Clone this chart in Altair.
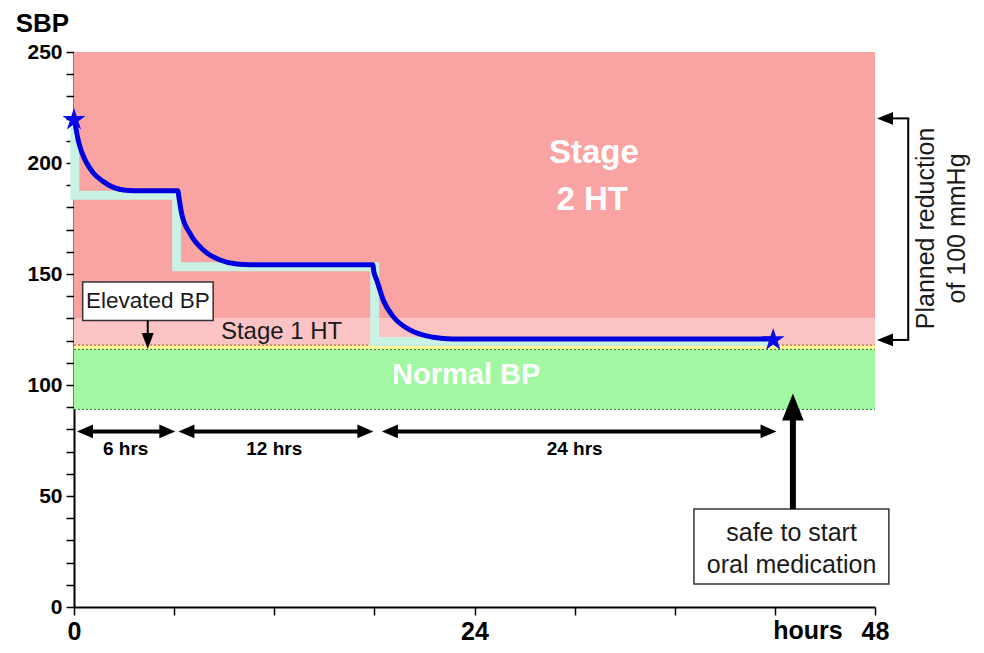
import altair as alt
import pandas as pd

# ---------------- data ----------------
band_names = ["Stage 2 HT", "Stage 1 HT", "Elevated BP", "Normal BP"]
band_low = [130, 118, 116, 89]
band_high = [250, 130, 118, 116]
band_colors = ["#f9a3a3", "#fbc3c3", "#fdf79a", "#a2f7a2"]

# blue SBP course (hours, mmHg)
blue_t = [0.0, 0.12, 0.26, 0.46, 0.76, 1.16, 1.76, 2.36, 2.96, 3.6, 6.22,
          6.3, 6.45, 6.95, 7.75, 8.75, 9.75, 10.6, 17.9,
          17.97, 18.14, 18.53, 19.13, 20.13, 21.53, 22.7, 41.9]
blue_v = [220, 215.5, 210, 205, 200, 195.5, 191.6, 189, 187.8, 187.5, 187.5,
          184, 177.3, 168.3, 160.8, 156.3, 154.5, 154.2, 154.2,
          151, 147.3, 138.3, 130.8, 124.8, 121.5, 120.7, 120.7]

# light target step line
mint_t = [0.05, 0.05, 6.15, 6.15, 18.02, 18.02, 41.9]
mint_v = [216, 185.5, 185.5, 153.3, 153.3, 119.6, 119.6]

star_t = [0, 41.9]
star_v = [219.5, 120.3]

interval_left = [0.18, 6.26, 18.45]
interval_right = [6.07, 17.94, 42.1]
interval_labels = ["6 hrs", "12 hrs", "24 hrs"]
interval_mid = [3.1, 12.0, 30.0]

x_ticks = [0, 6, 12, 18, 24, 30, 36, 42, 48]
y_ticks = list(range(0, 251, 10))

FONT = "Liberation Sans"

XS = alt.Scale(domain=[0, 48], nice=False, zero=False)
YS = alt.Scale(domain=[0, 250], nice=False, zero=False)
x_axis = alt.Axis(values=x_ticks, title=None, grid=False,
                  labelExpr="datum.value % 24 === 0 ? datum.label : ''",
                  labelFontSize=25, labelFontWeight="bold", labelFont=FONT,
                  labelColor="black", labelPadding=24, labelBaseline="alphabetic",
                  labelFlush=False,
                  tickSize=8, tickWidth=1.5, tickColor="black",
                  domainColor="black", domainWidth=2)
y_axis = alt.Axis(values=y_ticks, title=None, grid=False,
                  labelExpr="datum.value % 50 === 0 ? datum.label : ''",
                  labelFontSize=21, labelFontWeight="bold", labelFont=FONT,
                  labelColor="black", labelPadding=4,
                  tickSize=8, tickWidth=1.5, tickColor="black",
                  domainColor="black", domainWidth=2)


def X(f="t"):
    return alt.X(f"{f}:Q", scale=XS, axis=x_axis)


def Y(f="v"):
    return alt.Y(f"{f}:Q", scale=YS, axis=y_axis)


def texts(ts, vs, labels, **style):
    df = pd.DataFrame({"t": ts, "v": vs, "txt": labels})
    return alt.Chart(df).mark_text(font=FONT, **style).encode(
        x=X(), y=Y(), text="txt:N")


def heads(ts, vs, path, size):
    df = pd.DataFrame({"t": ts, "v": vs})
    return alt.Chart(df).mark_point(shape=path, filled=True, color="black",
                                    size=size, opacity=1, strokeWidth=0).encode(x=X(), y=Y())


# ---------------- layers ----------------
bands = pd.DataFrame({"name": band_names, "t": 0, "t2": 48,
                      "v": band_low, "v2": band_high})
band_layer = alt.Chart(bands).mark_rect().encode(
    x=X(), x2="t2", y=Y(), y2="v2",
    color=alt.Color("name:N", scale=alt.Scale(domain=band_names, range=band_colors),
                    legend=None))

red_dots = alt.Chart(pd.DataFrame({"t": [0], "t2": [48], "v": [band_low[1]]})).mark_rule(
    color="#c83a3a", strokeWidth=1, strokeDash=[2, 2]).encode(x=X(), x2="t2", y=Y())
green_dots = alt.Chart(pd.DataFrame({"t": [0, 0], "t2": [48, 48],
                                     "v": [band_low[2], band_low[3]]})).mark_rule(
    color="#2f7a2f", strokeWidth=1, strokeDash=[2, 2]).encode(x=X(), x2="t2", y=Y())

mint = pd.DataFrame({"t": mint_t, "v": mint_v, "o": range(len(mint_t))})
mint_layer = alt.Chart(mint).mark_line(color="#c8f3e4", strokeWidth=9,
                                       strokeJoin="miter").encode(
    x=X(), y=Y(), order="o:Q")

blue = pd.DataFrame({"t": blue_t, "v": blue_v})
blue_layer = alt.Chart(blue).mark_line(color="#0000dd", strokeWidth=5,
                                       interpolate="monotone").encode(x=X(), y=Y())

STAR = ("M0,-1L0.2245,-0.309L0.951,-0.309L0.3633,0.118L0.5878,0.809L0,0.382"
        "L-0.5878,0.809L-0.3633,0.118L-0.951,-0.309L-0.2245,-0.309Z")
stars = alt.Chart(pd.DataFrame({"t": star_t, "v": star_v})).mark_point(
    shape=STAR, filled=True, color="#0a0ae6", size=580, opacity=1,
    strokeWidth=0).encode(x=X(), y=Y())

# boxes
boxes = pd.DataFrame({"t": [0.52, 37.15], "t2": [8.34, 48.83],
                      "v": [129.0, 10.4], "v2": [146.4, 44.1]})
box_layer = alt.Chart(boxes).mark_rect(fill="white", stroke="#333333",
                                       strokeWidth=1.5).encode(
    x=X(), x2="t2", y=Y(), y2="v2")

# interval arrows
iv = pd.DataFrame({"t": [a + 0.45 for a in interval_left],
                   "t2": [b - 0.45 for b in interval_right],
                   "v": [79.1] * 3})
iv_layer = alt.Chart(iv).mark_rule(color="black", strokeWidth=4).encode(
    x=X(), x2="t2", y=Y())
LEFT = "M0,0L2,-0.85L2,0.85Z"
RIGHT = "M0,0L-2,-0.85L-2,0.85Z"
UP = "M0,0L-0.8,2L0.8,2Z"
DOWN = "M0,0L-0.75,-2L0.75,-2Z"
iv_left_heads = heads(interval_left, [79.1] * 3, LEFT, 256)
iv_right_heads = heads(interval_right, [79.1] * 3, RIGHT, 256)
iv_text = texts(interval_mid, [71.0] * 3, interval_labels,
                fontSize=19, fontWeight="bold", color="black")

# safe-to-start arrow
safe_shaft = alt.Chart(pd.DataFrame({"t": [43.08], "v": [44.1], "v2": [90]})).mark_rule(
    color="black", strokeWidth=6).encode(x=X(), y=Y(), y2="v2")
safe_head = heads([43.08], [96.2], UP, 729)

# elevated BP arrow
elev_shaft = alt.Chart(pd.DataFrame({"t": [4.42], "v": [129.0], "v2": [120]})).mark_rule(
    color="black", strokeWidth=2).encode(x=X(), y=Y(), y2="v2")
elev_head = heads([4.42], [116.2], DOWN, 256)

# planned reduction bracket
br_v = alt.Chart(pd.DataFrame({"t": [49.99], "v": [120.3], "v2": [220.1]})).mark_rule(
    color="black", strokeWidth=2).encode(x=X(), y=Y(), y2="v2")
br_h = alt.Chart(pd.DataFrame({"t": [48.6, 48.6], "t2": [50.05, 50.05],
                               "v": [220.1, 120.3]})).mark_rule(
    color="black", strokeWidth=2).encode(x=X(), x2="t2", y=Y())
br_heads = heads([48.12, 48.12], [220.1, 120.3], "M0,0L2,-0.8L2,0.8Z", 256)

# texts
white_big = texts([31.15, 31.05], [204.5, 183.3], ["Stage", "2 HT"],
                  fontSize=33, fontWeight="bold", color="white")
normal_txt = texts([23.5], [104.5], ["Normal BP"],
                   fontSize=29, fontWeight="bold", color="white")
stage1_txt = texts([12.44], [124.0], ["Stage 1 HT"], fontSize=24, color="#1a1a1a")
elev_txt = texts([4.43], [137.8], ["Elevated BP"], fontSize=22.5, color="#1a1a1a")
safe_txt = texts([43.0, 43.0], [33.3, 18.9], ["safe to start", "oral medication"],
                 fontSize=25, color="#1a1a1a")
rot_txt = texts([51.05, 52.9], [170.5, 170.5], ["Planned reduction", "of 100 mmHg"],
                fontSize=25, angle=270, color="#1a1a1a")
sbp_txt = texts([-1.89], [259.0], ["SBP"], fontSize=26, fontWeight="bold", color="black",
                baseline="alphabetic")
hours_txt = texts([43.98], [-14.4], ["hours"], fontSize=25, fontWeight="bold",
                  color="black", baseline="alphabetic")

chart = alt.layer(
    band_layer, red_dots, green_dots, mint_layer, blue_layer,
    box_layer, iv_layer, iv_left_heads, iv_right_heads, iv_text,
    safe_shaft, safe_head, elev_shaft, elev_head,
    br_v, br_h, br_heads,
    white_big, normal_txt, stage1_txt, elev_txt, safe_txt, rot_txt, sbp_txt, hours_txt,
    stars,
).properties(
    width=801, height=555,
    autosize=alt.AutoSizeParams(type="none"),
    padding={"left": 66, "top": 44, "right": 101, "bottom": 38},
).configure_view(stroke=None)

chart.save("out.html", embed_options={"renderer": "svg", "actions": False})
